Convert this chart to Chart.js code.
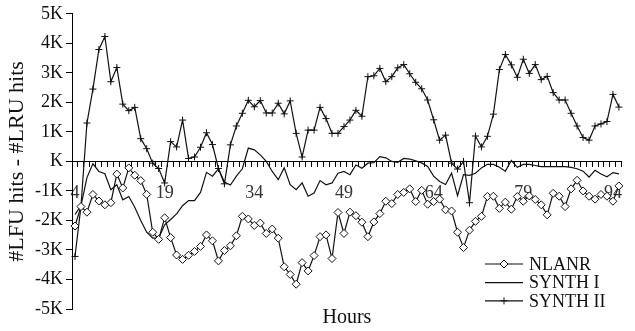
<!DOCTYPE html>
<html>
<head>
<meta charset="utf-8">
<script src="https://cdn.jsdelivr.net/npm/chart.js@4.4.0/dist/chart.umd.min.js"></script>
<style>
  html, body { margin: 0; padding: 0; background: #fff; }
  #wrap { width: 635px; height: 331px; }
</style>
</head>
<body>
<div id="wrap"><canvas id="c" width="635" height="331"></canvas></div>
<script>
// Hour of the trace (category axis)
const hours = [4,5,6,7,8,9,10,11,12,13,14,15,16,17,18,19,20,21,22,23,24,25,26,27,28,29,30,31,32,33,
  34,35,36,37,38,39,40,41,42,43,44,45,46,47,48,49,50,51,52,53,54,55,56,57,58,59,60,61,62,63,
  64,65,66,67,68,69,70,71,72,73,74,75,76,77,78,79,80,81,82,83,84,85,86,87,88,89,90,91,92,93,94,95];

// Hours that carry a printed label on the x axis
const hourTicks = [4, 19, 34, 49, 64, 79, 94];

// #LFU hits - #LRU hits per hour
const nlanr = [-2190,-1530,-1720,-1120,-1340,-1470,-1400,-430,-900,-220,
  -470,-650,-1120,-2400,-2640,-1910,-2580,-3170,-3320,-3180,
  -3050,-2880,-2490,-2690,-3370,-3020,-2860,-2520,-1860,-1950,
  -2170,-2090,-2440,-2290,-2600,-3570,-3830,-4160,-3430,-3710,
  -3190,-2550,-2490,-3290,-1730,-2440,-1720,-1840,-2060,-2550,
  -2050,-1770,-1350,-1430,-1120,-1050,-930,-1360,-980,-1450,
  -1360,-1280,-1640,-1680,-2400,-2920,-2330,-2030,-1860,-1190,
  -1180,-1590,-1380,-1620,-1190,-1350,-1170,-1290,-1470,-1810,
  -1080,-1180,-1530,-930,-640,-1000,-1180,-1280,-1120,-1180,
  -1350,-830];

const synth1 = [-1800,-1500,-550,-80,-340,-420,-960,-790,-1300,-1190,
  -1550,-2000,-2400,-2600,-2600,-2150,-1970,-1780,-1500,-1330,
  -1330,-1050,-370,-500,-250,-700,-800,-500,-250,450,
  390,220,0,-340,-620,-220,-790,-960,-730,-1180,
  -1070,-650,-790,-730,-400,-340,-450,-120,-230,-60,
  -40,160,120,0,-30,100,80,20,-50,-170,
  -500,-680,-780,-400,-1160,-450,-470,-400,-220,-100,
  -100,-200,-330,30,-200,-100,-100,-140,-180,-180,
  -180,-180,-180,-200,-250,-330,-530,-300,-430,-520,
  -380,-420];

const synth2 = [-3220,-1520,1300,2450,3790,4230,2700,3180,1940,1720,
  1830,770,430,-60,-240,-730,670,490,1400,100,
  150,480,970,570,-240,-760,560,1200,1630,2070,
  1850,2060,1640,1640,1970,1610,2050,950,150,1060,
  1060,1830,1450,950,950,1180,1400,1730,1530,2870,
  2900,3150,2700,2870,3170,3280,2970,2680,2460,2080,
  1410,720,890,-60,-260,0,-1400,860,490,850,
  1600,3110,3620,3270,2850,3460,2980,3280,2770,2880,
  2330,2080,2080,1630,1200,810,720,1200,1270,1350,
  2270,1840];

const serif = "'Liberation Serif', 'Times New Roman', serif";
const ink = '#111';

// Legend drawn inside the plot, lower right: line sample + marker + name
const insideLegend = {
  id: 'insideLegend',
  afterDraw(chart) {
    const ctx = chart.ctx;
    const x0 = 485, x1 = 523, xm = 504, xt = 529;
    const rows = [264, 282.7, 300.8];
    ctx.save();
    chart.data.datasets.forEach((ds, k) => {
      const y = rows[k];
      ctx.strokeStyle = ds.borderColor;
      ctx.lineWidth = ds.borderWidth;
      ctx.beginPath();
      ctx.moveTo(x0, y);
      ctx.lineTo(x1, y);
      ctx.stroke();
      const r = ds.pointRadius;
      if (r > 0) {
        ctx.lineWidth = 1;
        ctx.beginPath();
        if (ds.pointStyle === 'rectRot') {
          ctx.moveTo(xm - r, y);
          ctx.lineTo(xm, y - r);
          ctx.lineTo(xm + r, y);
          ctx.lineTo(xm, y + r);
          ctx.closePath();
          ctx.fillStyle = ds.pointBackgroundColor;
          ctx.fill();
          ctx.stroke();
        } else {
          ctx.moveTo(xm - r, y);
          ctx.lineTo(xm + r, y);
          ctx.moveTo(xm, y - r);
          ctx.lineTo(xm, y + r);
          ctx.stroke();
        }
      }
      ctx.fillStyle = ink;
      ctx.font = '18px ' + serif;
      ctx.textAlign = 'left';
      ctx.textBaseline = 'middle';
      ctx.fillText(ds.label, xt, y + 1);
    });
    ctx.restore();
  }
};

new Chart(document.getElementById('c'), {
  type: 'line',
  data: {
    labels: hours,
    datasets: [
      {
        label: 'NLANR', data: nlanr,
        borderColor: ink, borderWidth: 1.2,
        pointStyle: 'rectRot', pointRadius: 4,
        pointBackgroundColor: '#fff', pointBorderColor: ink, pointBorderWidth: 1,
        tension: 0
      },
      {
        label: 'SYNTH I', data: synth1,
        borderColor: ink, borderWidth: 1.2,
        pointRadius: 0, tension: 0
      },
      {
        label: 'SYNTH II', data: synth2,
        borderColor: ink, borderWidth: 1.2,
        pointStyle: 'cross', pointRadius: 3.5,
        pointBorderColor: ink, pointBorderWidth: 1, pointBackgroundColor: ink,
        tension: 0
      }
    ]
  },
  options: {
    responsive: false,
    animation: false,
    devicePixelRatio: 1,
    events: [],
    layout: { padding: { top: 13, right: 0, bottom: 0, left: 0 } },
    plugins: { legend: { display: false }, tooltip: { enabled: false } },
    scales: {
      x: {
        type: 'category',
        offset: true,
        position: { y: 0 },
        grid: { display: true, drawOnChartArea: false, drawTicks: true, tickLength: 5,
                color: '#000', lineWidth: 1, offset: true },
        border: { display: true, color: '#000', width: 1 },
        ticks: {
          autoSkip: false, maxRotation: 0, minRotation: 0, padding: 16,
          color: '#333', font: { family: serif, size: 18 },
          callback(value) {
            const h = this.getLabelForValue(value);
            return hourTicks.includes(Number(h)) ? String(h) : '';
          }
        }
      },
      x2: {
        type: 'category',
        position: 'bottom',
        offset: true,
        grid: { display: false },
        border: { display: false },
        ticks: { display: false },
        title: { display: true, text: 'Hours', color: ink,
                 font: { family: serif, size: 20 }, padding: { top: 0, bottom: 1 } },
        afterFit(scale) { scale.height = 22; }
      },
      y: {
        position: 'left',
        min: -5000, max: 5000,
        grid: { drawOnChartArea: false, drawTicks: true, tickLength: 6, color: '#000' },
        border: { display: true, color: '#000', width: 1 },
        ticks: {
          stepSize: 1000, padding: 3, color: ink,
          font: { family: serif, size: 18 },
          callback(v) { return v === 0 ? 'K' : (v / 1000) + 'K'; }
        },
        title: { display: true, text: '#LFU hits - #LRU hits', color: ink,
                 font: { family: serif, size: 22 }, padding: { top: 4, bottom: 0 } },
        afterFit(scale) { scale.width = 72; }
      }
    }
  },
  plugins: [insideLegend]
});
</script>
</body>
</html>
